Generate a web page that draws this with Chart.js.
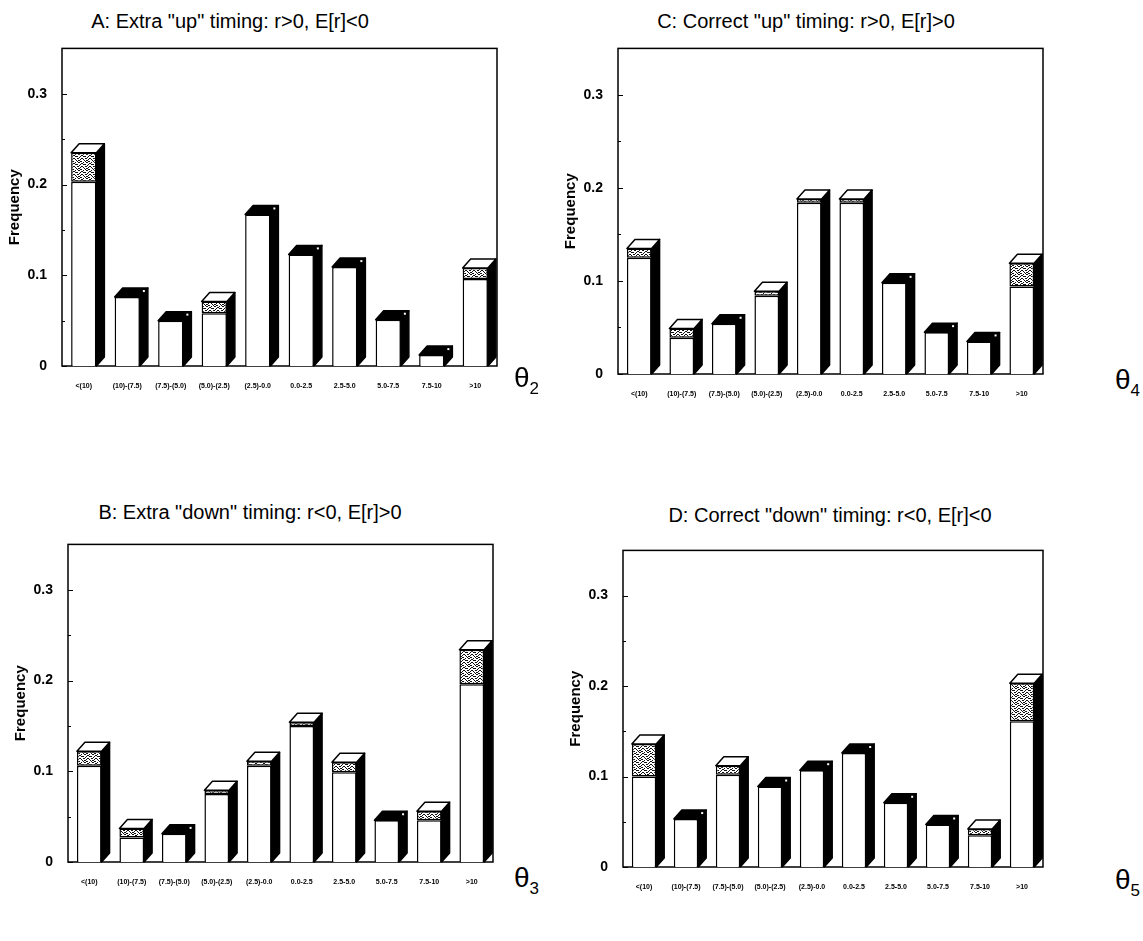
<!DOCTYPE html>
<html>
<head>
<meta charset="utf-8">
<script src="https://cdn.jsdelivr.net/npm/chart.js@4.4.0/dist/chart.umd.min.js"></script>
<style>
  body{margin:0;background:#fff;width:1143px;height:941px;position:relative;overflow:hidden;font-family:"Liberation Sans",Arial,sans-serif;}
  .box{position:absolute;}
  .ttl{position:absolute;font-size:20px;line-height:1;white-space:nowrap;color:#000;transform:translateX(-50%);}
  .theta{position:absolute;font-size:28px;line-height:1;color:#000;}
  .theta sub{font-size:17px;vertical-align:-7px;}
</style>
</head>
<body>
<script>
// bin labels of the return classes
const categories = ['<(10)', '(10)-(7.5)', '(7.5)-(5.0)', '(5.0)-(2.5)', '(2.5)-0.0', '0.0-2.5', '2.5-5.0', '5.0-7.5', '7.5-10', '>10'];
const yTicks = [0, 0.1, 0.2, 0.3];

// total bar height and the plain (white) lower part of each bar
const aTotal = [0.235, 0.076, 0.050, 0.071, 0.167, 0.123, 0.109, 0.051, 0.012, 0.108];
const aLower = [0.203, 0.076, 0.050, 0.058, 0.167, 0.123, 0.109, 0.051, 0.012, 0.096];
const cTotal = [0.135, 0.049, 0.054, 0.089, 0.188, 0.188, 0.098, 0.045, 0.035, 0.119];
const cLower = [0.125, 0.039, 0.054, 0.084, 0.184, 0.184, 0.098, 0.045, 0.035, 0.094];
const bTotal = [0.122, 0.037, 0.031, 0.079, 0.111, 0.154, 0.110, 0.046, 0.056, 0.234];
const bLower = [0.106, 0.027, 0.031, 0.075, 0.106, 0.150, 0.099, 0.046, 0.046, 0.196];
const dTotal = [0.136, 0.053, 0.112, 0.089, 0.107, 0.126, 0.071, 0.047, 0.042, 0.203];
const dLower = [0.100, 0.053, 0.102, 0.089, 0.107, 0.126, 0.071, 0.047, 0.035, 0.161];

const panels = [
  { title: 'A: Extra "up" timing: r>0, E[r]<0',     total: aTotal, lower: aLower, frame: [62, 43, 497, 366],  tx: 230, ty: 11,  th: '2', thx: 514, thy: 364 },
  { title: 'C: Correct "up" timing: r>0, E[r]>0',   total: cTotal, lower: cLower, frame: [618, 43, 1043, 374], tx: 806, ty: 11,  th: '4', thx: 1115, thy: 366 },
  { title: 'B: Extra "down" timing: r<0, E[r]>0',   total: bTotal, lower: bLower, frame: [68, 539, 493, 862],  tx: 250, ty: 502, th: '3', thx: 514, thy: 864 },
  { title: 'D: Correct "down" timing: r<0, E[r]<0', total: dTotal, lower: dLower, frame: [623, 545, 1043, 867], tx: 830, ty: 505, th: '5', thx: 1115, thy: 866 }
];

// speckled fill for the upper part of the bars
function makeSpeckle(){
  const c = document.createElement('canvas');
  c.width = 8; c.height = 8;
  const g = c.getContext('2d');
  g.fillStyle = '#fff'; g.fillRect(0, 0, 8, 8);
  g.fillStyle = '#111';
  [[0,0],[1,0],[5,0],[3,1],[6,1],[7,1],[1,2],[2,2],[5,3],[0,3],[3,3],[4,3],[7,4],[2,5],[1,5],[5,5],[6,5],
   [0,6],[3,6],[4,7],[6,7],[7,7]].forEach(p => g.fillRect(p[0], p[1], 1, 1));
  return c;
}

// frame round the plot plus inward tick marks
const framePlugin = {
  id: 'frame',
  beforeDatasetsDraw(chart){
    const a = chart.chartArea, ctx = chart.ctx, y = chart.scales.y;
    ctx.save();
    ctx.strokeStyle = '#000';
    ctx.lineWidth = 1.5;
    ctx.strokeRect(a.left, a.top, a.right - a.left, a.bottom - a.top);
    ctx.lineWidth = 1;
    for (let v = 0; v <= 0.3001; v += 0.05){
      const py = Math.round(y.getPixelForValue(v)) + 0.5;
      const len = (Math.round(v * 100) % 10 === 0) ? 5 : 3;
      ctx.beginPath(); ctx.moveTo(a.left, py); ctx.lineTo(a.left + len, py); ctx.stroke();
    }
    ctx.restore();
  }
};

// side and top faces to make the bars look like boxes
const boxPlugin = {
  id: 'box3d',
  afterDatasetsDraw(chart){
    const ctx = chart.ctx;
    const m0 = chart.getDatasetMeta(0), m1 = chart.getDatasetMeta(1);
    const up = chart.data.datasets[1].data;
    const dx = 8, dy = 9;
    m0.data.forEach((bar, i) => {
      const hasUp = up[i] != null;
      const topBar = hasUp ? m1.data[i] : bar;
      const L = bar.x - bar.width / 2, R = bar.x + bar.width / 2;
      const T = topBar.y, B = bar.base;
      ctx.save();
      ctx.strokeStyle = '#000';
      ctx.lineWidth = 1.5;
      ctx.lineJoin = 'round';
      ctx.fillStyle = '#000';
      ctx.beginPath();
      ctx.moveTo(R, T); ctx.lineTo(R + dx, T - dy); ctx.lineTo(R + dx, B - dy); ctx.lineTo(R, B);
      ctx.closePath(); ctx.fill(); ctx.stroke();
      ctx.beginPath();
      ctx.moveTo(L, T); ctx.lineTo(L + dx, T - dy); ctx.lineTo(R + dx, T - dy); ctx.lineTo(R, T);
      ctx.closePath();
      ctx.fillStyle = hasUp ? '#fff' : '#000';
      ctx.fill(); ctx.stroke();
      if (!hasUp){ ctx.fillStyle = '#fff'; ctx.fillRect(R + dx - 5, T - dy + 2, 2, 2); }
      ctx.restore();
    });
  }
};

const speckle = makeSpeckle();

panels.forEach(p => {
  const [l, t, r, b] = p.frame;
  const padL = 62, padT = 10, padR = 20, padB = 35;

  const box = document.createElement('div');
  box.className = 'box';
  box.style.left = (l - padL) + 'px';
  box.style.top = (t - padT) + 'px';
  box.style.width = (r - l + padL + padR) + 'px';
  box.style.height = (b - t + padT + padB) + 'px';
  const cv = document.createElement('canvas');
  box.appendChild(cv);
  document.body.appendChild(box);

  const ttl = document.createElement('div');
  ttl.className = 'ttl';
  ttl.style.left = p.tx + 'px'; ttl.style.top = p.ty + 'px';
  ttl.textContent = p.title;
  document.body.appendChild(ttl);

  const th = document.createElement('div');
  th.className = 'theta';
  th.style.left = p.thx + 'px'; th.style.top = p.thy + 'px';
  th.innerHTML = 'θ<sub>' + p.th + '</sub>';
  document.body.appendChild(th);

  const upper = p.total.map((v, i) => {
    const d = +(v - p.lower[i]).toFixed(3);
    return d > 0 ? d : null;
  });
  const pattern = cv.getContext('2d').createPattern(speckle, 'repeat');

  new Chart(cv, {
    type: 'bar',
    data: {
      labels: categories,
      datasets: [
        { data: p.lower, backgroundColor: '#fff', borderColor: '#000', borderWidth: 1.5, borderSkipped: 'start' },
        { data: upper, backgroundColor: pattern, borderColor: '#000', borderWidth: 1.5, borderSkipped: false }
      ]
    },
    options: {
      responsive: true,
      maintainAspectRatio: false,
      animation: false,
      layout: { padding: { left: 0, top: padT, right: padR, bottom: 0 } },
      datasets: { bar: { barPercentage: 0.58, categoryPercentage: 1.0 } },
      plugins: { legend: { display: false }, tooltip: { enabled: false }, title: { display: false } },
      scales: {
        x: {
          stacked: true,
          grid: { display: false },
          border: { display: false },
          ticks: { color: '#000', font: { size: 7, weight: 'bold', family: 'Liberation Sans' }, maxRotation: 0, autoSkip: false, padding: 8 },
          afterFit: s => { s.height = padB; }
        },
        y: {
          stacked: true,
          min: 0, max: 0.35,
          grid: { display: false },
          border: { display: false },
          ticks: {
            stepSize: 0.1, includeBounds: false, color: '#000', padding: 7,
            font: { size: 14, weight: 'bold', family: 'Liberation Sans' },
            callback: v => yTicks.includes(+v.toFixed(2)) ? (v === 0 ? '0' : v.toFixed(1)) : ''
          },
          title: { display: true, text: 'Frequency', color: '#000', font: { size: 15, weight: 'bold', family: 'Liberation Sans' }, padding: { top: 6, bottom: 0 } },
          afterFit: s => { s.width = padL; }
        }
      }
    },
    plugins: [framePlugin, boxPlugin]
  });
});
</script>
</body>
</html>
